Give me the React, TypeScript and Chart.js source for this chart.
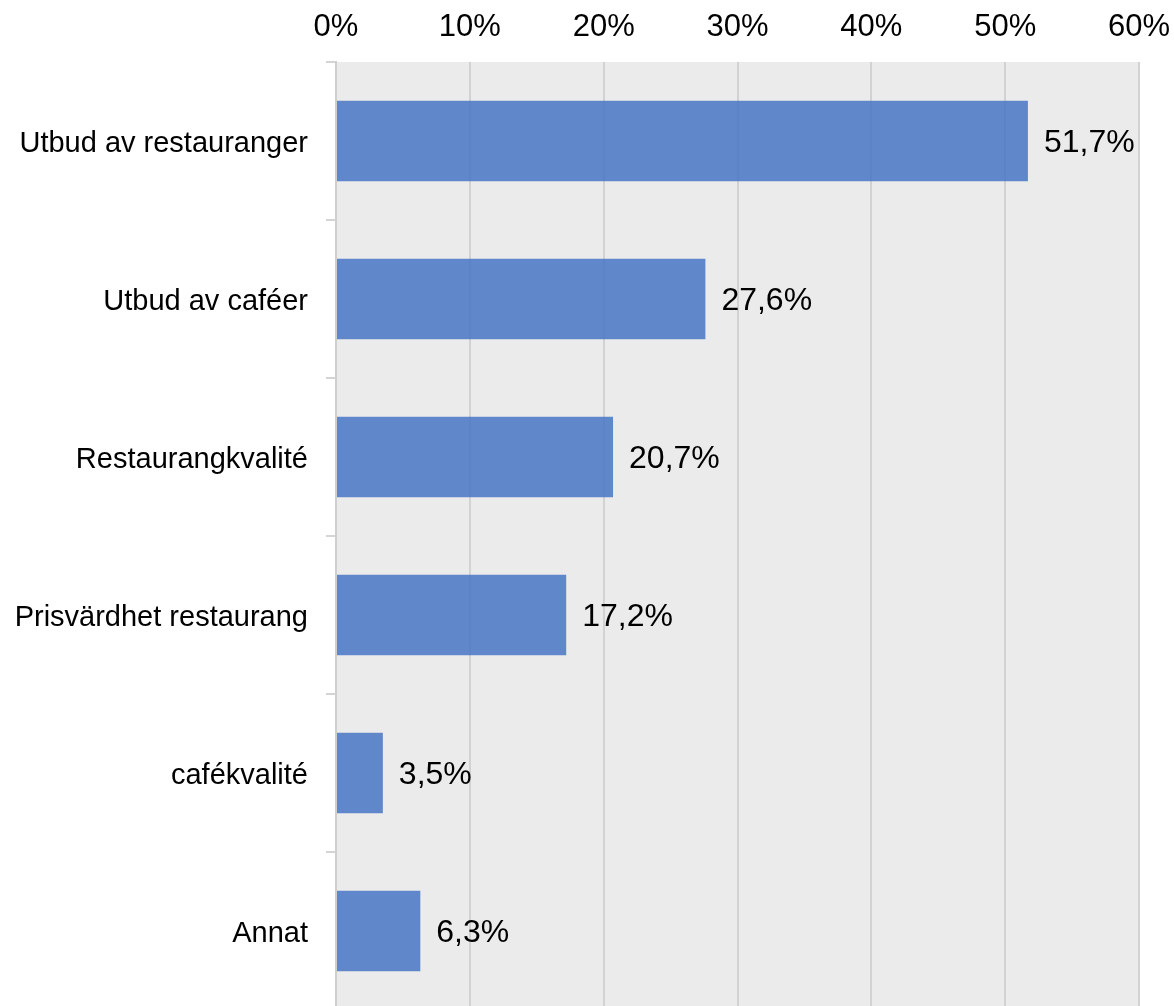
import React, { useEffect, useRef } from "react";
import { Chart, registerables } from "chart.js";

Chart.register(...registerables);

const categories = [
  "Utbud av restauranger",
  "Utbud av caféer",
  "Restaurangkvalité",
  "Prisvärdhet restaurang",
  "cafékvalité",
  "Annat",
];
const values = [51.7, 27.6, 20.7, 17.2, 3.5, 6.3];
const valueLabels = ["51,7%", "27,6%", "20,7%", "17,2%", "3,5%", "6,3%"];
const xTicks = [0, 10, 20, 30, 40, 50, 60];

const FONT = "'Liberation Sans', Arial, sans-serif";

export default function App() {
  const ref = useRef<HTMLCanvasElement | null>(null);

  useEffect(() => {
    if (!ref.current) return;
    const bgPlugin = {
      id: "plotBg",
      beforeDraw(chart: any) {
        const { ctx, chartArea } = chart;
        ctx.save();
        ctx.fillStyle = "#ebebeb";
        ctx.fillRect(chartArea.left, chartArea.top, chartArea.right - chartArea.left, chartArea.bottom - chartArea.top);
        ctx.restore();
      },
    };
    const labelPlugin = {
      id: "valueLabels",
      afterDatasetsDraw(chart: any) {
        const { ctx } = chart;
        const meta = chart.getDatasetMeta(0);
        ctx.save();
        ctx.font = `32px ${FONT}`;
        ctx.fillStyle = "#000000";
        ctx.textAlign = "left";
        ctx.textBaseline = "middle";
        meta.data.forEach((bar: any, i: number) => {
          ctx.fillText(valueLabels[i], bar.x + 16, bar.y + 2);
        });
        ctx.restore();
      },
    };
    const chart = new Chart(ref.current, {
      type: "bar",
      data: {
        labels: categories,
        datasets: [
          {
            data: values,
            backgroundColor: "rgba(68,114,196,0.83)",
            borderWidth: 0,
            barPercentage: 0.51,
            categoryPercentage: 1,
          },
        ],
      },
      options: {
        indexAxis: "y",
        animation: false,
        responsive: true,
        maintainAspectRatio: false,
        layout: { padding: { left: 0, right: 35, top: 0, bottom: 0 } },
        plugins: {
          legend: { display: false },
          tooltip: { enabled: false },
        },
        scales: {
          x: {
            position: "top",
            min: 0,
            max: 60,
            afterBuildTicks(scale: any) {
              scale.ticks = xTicks.map((v) => ({ value: v }));
            },
            afterFit(scale: any) {
              scale.height = 62;
              scale.paddingLeft = 0;
              scale.paddingRight = 0;
            },
            ticks: {
              callback: (v: any) => `${v}%`,
              color: "#000000",
              font: { family: FONT, size: 31 },
              padding: 16,
            },
            grid: {
              color: "#d2d2d2",
              lineWidth: 2,
              drawTicks: false,
            },
            border: { display: false },
          },
          y: {
            afterFit(scale: any) {
              scale.width = 336;
              scale.paddingTop = 0;
              scale.paddingBottom = 0;
            },
            ticks: {
              color: "#000000",
              font: { family: FONT, size: 29 },
              padding: 18,
              labelOffset: 3,
            },
            grid: {
              offset: true,
              drawOnChartArea: false,
              drawTicks: true,
              tickLength: 10,
              color: "#d4d4d4",
              lineWidth: 2,
            },
            border: { display: true, color: "#cfcfcf", width: 2 },
          },
        },
      },
      plugins: [bgPlugin, labelPlugin],
    });
    return () => chart.destroy();
  }, []);

  return (
    <div style={{ position: "fixed", left: 0, top: 0, width: 1174, height: 1006, overflow: "hidden", background: "#ffffff" }}>
      <div style={{ position: "relative", width: 1174, height: 1010 }}>
        <canvas ref={ref} />
      </div>
    </div>
  );
}
